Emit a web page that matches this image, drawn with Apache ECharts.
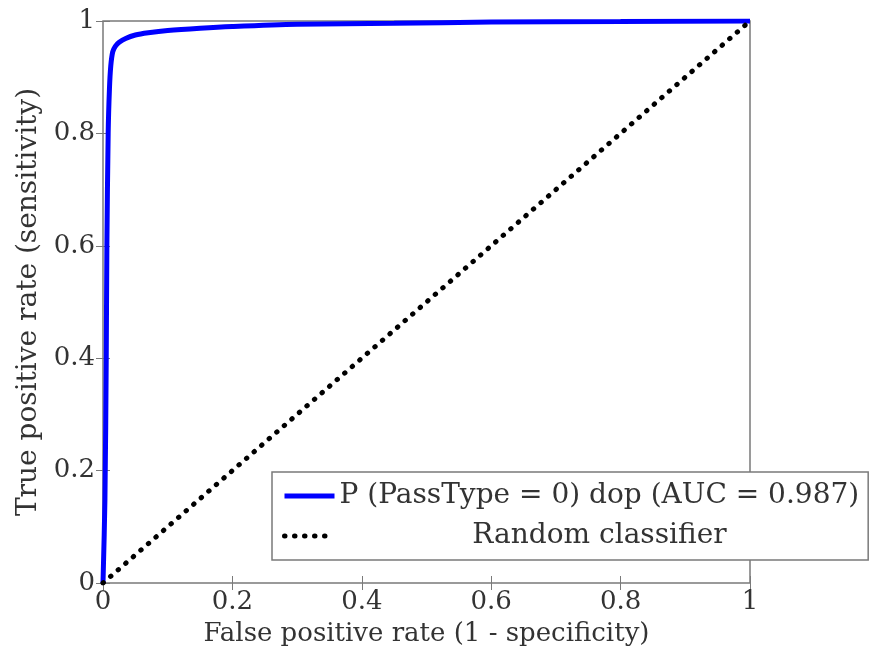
<!DOCTYPE html>
<html lang="en">
<head>
<meta charset="UTF-8">
<title>ROC curve</title>
<script src="https://cdn.jsdelivr.net/npm/echarts@6/dist/echarts.min.js"></script>
<style>
  html, body { margin: 0; padding: 0; background: #fff; }
  #roc-chart { width: 870px; height: 652px; }
</style>
</head>
<body>
<div id="roc-chart"></div>
<script>
// values
var fpr = [0, 0.003, 0.005, 0.006, 0.008, 0.010, 0.012, 0.015, 0.019, 0.025, 0.035, 0.05, 0.07, 0.1, 0.15, 0.2, 0.3, 0.45, 0.6, 0.8, 1];
var tpr = [0, 0.15, 0.4, 0.6, 0.8, 0.88, 0.92, 0.945, 0.955, 0.962, 0.969, 0.975, 0.979, 0.983, 0.987, 0.99, 0.994, 0.996, 0.998, 0.999, 1];
var randomX = [0, 1];
var randomY = [0, 1];
var seriesNames = ['P (PassType = 0) dop (AUC = 0.987)', 'Random classifier'];

var font = 'DejaVu Serif';
var fontSize = 26;
var textColor = '#333';
var frame = '#7a7a7a';

function pairs(xs, ys) {
    return xs.map(function (x, i) { return [x, ys[i]]; });
}

var tickStyle = { inside: true, length: 7, lineStyle: { color: frame, width: 1 } };
var blueLine = { color: '#0000ff', width: 5 };
var dotLine = { color: '#000', width: 5, type: [0.5, 9.5], cap: 'round' };

var myChart = echarts.init(document.getElementById('roc-chart'));
var option = {
    animation: false,
    backgroundColor: '#fff',
    grid: {
        left: 103, right: 120, top: 21, bottom: 69,
        show: true, borderColor: frame, borderWidth: 1.5
    },
    xAxis: [{
        type: 'value', min: 0, max: 1, interval: 0.2,
        name: 'False positive rate (1 - specificity)',
        nameLocation: 'middle', nameGap: 38,
        nameTextStyle: { fontFamily: font, fontSize: fontSize, color: textColor },
        axisLine: { show: false },
        axisTick: tickStyle,
        splitLine: { show: false },
        axisLabel: { fontFamily: font, fontSize: fontSize, color: textColor, margin: 6 }
    }, {
        type: 'value', min: 0, max: 1, interval: 0.2, position: 'top',
        axisLine: { show: false }, axisTick: tickStyle,
        splitLine: { show: false }, axisLabel: { show: false }
    }],
    yAxis: [{
        type: 'value', min: 0, max: 1, interval: 0.2,
        name: 'True positive rate (sensitivity)',
        nameLocation: 'middle', nameGap: 60,
        nameTextStyle: { fontFamily: font, fontSize: 28, color: textColor },
        axisLine: { show: false },
        axisTick: tickStyle,
        splitLine: { show: false },
        axisLabel: { fontFamily: font, fontSize: fontSize, color: textColor, margin: 8 }
    }, {
        type: 'value', min: 0, max: 1, interval: 0.2, position: 'right',
        axisLine: { show: false }, axisTick: tickStyle,
        splitLine: { show: false }, axisLabel: { show: false }
    }],
    legend: {
        orient: 'vertical',
        left: 272, top: 472,
        padding: [10, 9, 10, 10],
        itemGap: 12,
        itemWidth: 50, itemHeight: 20,
        backgroundColor: '#fff',
        borderColor: frame, borderWidth: 1.5, borderRadius: 0,
        itemStyle: { opacity: 0 },
        data: [
            { name: seriesNames[0], lineStyle: blueLine },
            { name: seriesNames[1], lineStyle: dotLine }
        ],
        formatter: function (name) {
            return name === seriesNames[0] ? '{l|' + name + '}' : '{c|' + name + '}';
        },
        textStyle: {
            fontFamily: font, fontSize: 28, color: textColor,
            rich: {
                l: { width: 520, align: 'left', fontFamily: font, fontSize: 28, color: textColor },
                c: { width: 520, align: 'center', fontFamily: font, fontSize: 28, color: textColor }
            }
        }
    },
    series: [{
        name: seriesNames[0],
        type: 'line',
        data: pairs(fpr, tpr),
        showSymbol: false,
        symbol: 'none',
        smooth: 0.3,
        z: 3,
        lineStyle: blueLine,
        itemStyle: { color: '#0000ff' }
    }, {
        name: seriesNames[1],
        type: 'line',
        data: pairs(randomX, randomY),
        showSymbol: false,
        symbol: 'none',
        z: 4,
        lineStyle: dotLine,
        itemStyle: { color: '#000' }
    }]
};
myChart.setOption(option);
</script>
</body>
</html>
